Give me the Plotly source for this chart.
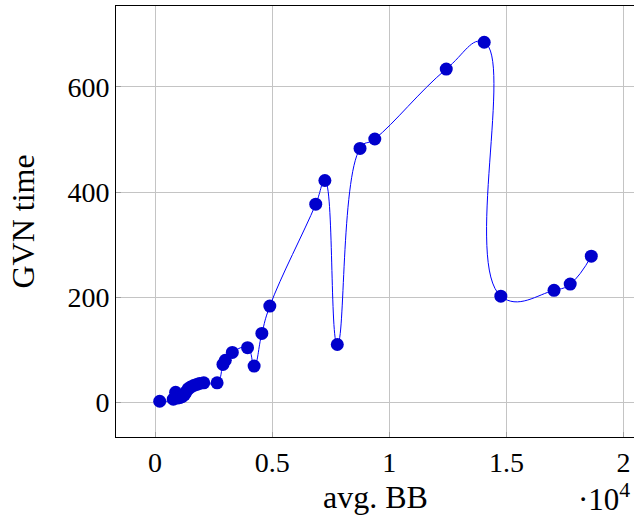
import plotly.graph_objects as go

avg_bb = [200, 780, 880, 950, 1050, 1150, 1250, 1330, 1420, 1520, 1650, 1780, 1900, 2080,
          2650, 2900, 3000, 3300, 3950, 4230, 4560, 4900, 6860, 7250, 7780, 8750, 9380,
          12430, 14050, 14760, 17030, 17720, 18620]
gvn_time = [2, 6, 19, 8, 9, 11, 14, 20, 26, 29, 32, 34, 36, 37,
            37, 72, 80, 95, 104, 69, 131, 183, 377, 422, 110, 483, 501,
            634, 685, 202, 213, 225, 278]

x_tick_vals = [0, 5000, 10000, 15000, 20000]
x_tick_text = ["0", "0.5", "1", "1.5", "2"]
y_tick_vals = [0, 200, 400, 600]
y_tick_text = ["0", "200", "400", "600"]

FONT = "Liberation Serif"
FS = 28
FT = 32

fig = go.Figure()
fig.add_trace(go.Scatter(
    x=avg_bb, y=gvn_time, mode="lines+markers",
    line=dict(color="#0000ff", width=1, shape="spline", smoothing=1.3),
    marker=dict(color="#0000cc", size=13, line=dict(width=0)),
    showlegend=False,
))

axis_common = dict(
    showgrid=True, gridcolor="#c4c4c4", gridwidth=1,
    showline=True, linecolor="black", linewidth=1,
    ticks="inside", ticklen=5, tickcolor="#a0a0a0",
    zeroline=False, automargin=False, ticklabeloverflow="allow",
    tickfont=dict(family=FONT, size=FS, color="black"),
)

fig.update_layout(
    width=634, height=524,
    margin=dict(l=116, r=0, t=6, b=87),
    paper_bgcolor="white", plot_bgcolor="white",
    xaxis=dict(range=[-1665, 20443], tickvals=x_tick_vals, ticktext=x_tick_text,
               mirror=True, **axis_common),
    yaxis=dict(range=[-66, 754], tickvals=y_tick_vals, ticktext=y_tick_text,
               mirror=False, **axis_common),
    annotations=[
        dict(text="avg. BB", xref="paper", yref="paper", x=0.5, y=0, xanchor="center",
             yanchor="middle", yshift=-60, showarrow=False,
             font=dict(family=FONT, size=FT, color="black")),
        dict(text="GVN time", xref="paper", yref="paper", x=0, y=0.5, xanchor="center",
             yanchor="middle", xshift=-94, textangle=-90, showarrow=False,
             font=dict(family=FONT, size=FT, color="black")),
        dict(text="·10<sup>4</sup>", xref="paper", yref="paper", x=1, y=0, xanchor="right",
             yanchor="middle", yshift=-60, xshift=-2, showarrow=False,
             font=dict(family=FONT, size=31, color="black")),
    ],
)

fig.write_html(
    "out.html",
    config={"displayModeBar": False},
    post_script="document.body.style.margin='0';document.body.style.padding='0';"
                "document.documentElement.style.margin='0';",
)
